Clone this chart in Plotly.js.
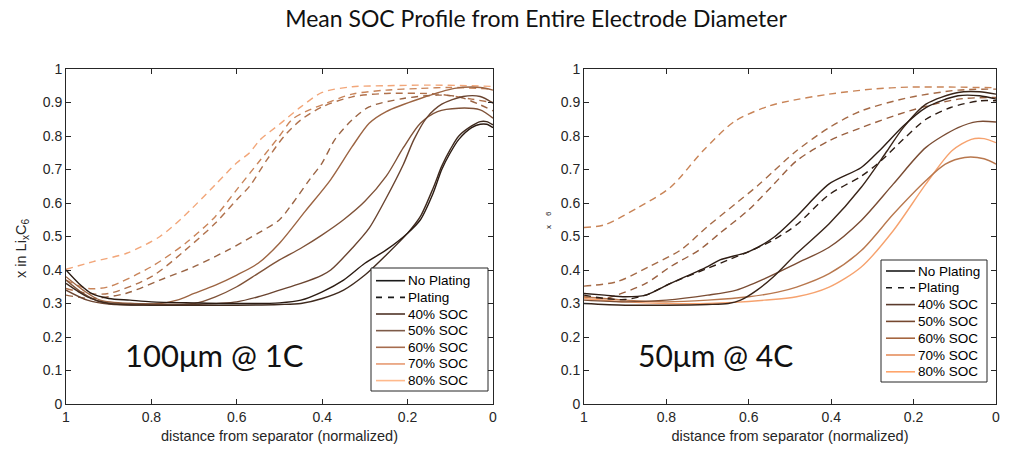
<!DOCTYPE html>
<html>
<head>
<meta charset="utf-8">
<script src="https://cdn.plot.ly/plotly-3.0.1.min.js"></script>
<style>html,body{margin:0;padding:0;background:#fff;overflow:hidden;}#chart{width:1013px;height:453px;}</style>
</head>
<body>
<div id="chart"></div>
<script>
// ---------- Left panel: 100µm @ 1C ----------
const L40sX = [1,0.97,0.94,0.9,0.85,0.8,0.7,0.6,0.5,0.45,0.4,0.35,0.3,0.25,0.2,0.17,0.14,0.12,0.1,0.08,0.05,0.03,0.015,0];
const L40sY = [0.40,0.36,0.33,0.315,0.31,0.305,0.302,0.30,0.302,0.31,0.335,0.37,0.42,0.46,0.51,0.55,0.63,0.70,0.75,0.79,0.825,0.835,0.835,0.825];
const L50sX = [1,0.95,0.9,0.8,0.7,0.6,0.5,0.45,0.4,0.35,0.3,0.25,0.2,0.17,0.14,0.12,0.1,0.08,0.05,0.03,0.015,0];
const L50sY = [0.36,0.32,0.30,0.295,0.295,0.295,0.297,0.30,0.315,0.34,0.385,0.445,0.51,0.56,0.645,0.71,0.76,0.80,0.83,0.843,0.843,0.833];
const L60sX = [1,0.95,0.9,0.8,0.7,0.6,0.55,0.5,0.45,0.4,0.38,0.33,0.29,0.25,0.21,0.185,0.155,0.12,0.07,0.03,0];
const L60sY = [0.34,0.31,0.298,0.295,0.297,0.305,0.32,0.34,0.36,0.385,0.40,0.465,0.525,0.615,0.715,0.79,0.855,0.895,0.918,0.918,0.898];
const L70sX = [1,0.96,0.92,0.85,0.75,0.7,0.65,0.6,0.55,0.5,0.45,0.4,0.35,0.3,0.25,0.21,0.17,0.13,0.08,0.03,0];
const L70sY = [0.37,0.33,0.305,0.30,0.298,0.30,0.32,0.35,0.39,0.43,0.465,0.505,0.55,0.605,0.68,0.765,0.838,0.873,0.883,0.878,0.853];
const L80sX = [1,0.96,0.92,0.85,0.78,0.74,0.7,0.65,0.6,0.55,0.5,0.44,0.38,0.33,0.29,0.25,0.17,0.09,0.03,0];
const L80sY = [0.38,0.34,0.31,0.30,0.30,0.31,0.33,0.355,0.385,0.42,0.48,0.575,0.67,0.768,0.838,0.873,0.912,0.942,0.945,0.937];
const L50dX = [1,0.94,0.86,0.78,0.7,0.62,0.55,0.5,0.475,0.43,0.4,0.37,0.33,0.29,0.21,0.13,0.08,0.03,0];
const L50dY = [0.325,0.315,0.33,0.37,0.41,0.46,0.51,0.55,0.589,0.669,0.72,0.79,0.848,0.887,0.912,0.922,0.917,0.893,0.875];
const L60dX = [1,0.95,0.9,0.8,0.72,0.65,0.6,0.57,0.53,0.49,0.45,0.4,0.33,0.25,0.13,0.05,0];
const L60dY = [0.345,0.33,0.33,0.38,0.46,0.54,0.61,0.65,0.728,0.798,0.848,0.887,0.917,0.927,0.925,0.91,0.90];
const L70dX = [1,0.95,0.9,0.8,0.72,0.65,0.6,0.55,0.5,0.47,0.43,0.39,0.33,0.25,0.17,0.1,0];
const L70dY = [0.37,0.345,0.35,0.41,0.48,0.56,0.64,0.72,0.80,0.85,0.878,0.898,0.925,0.937,0.942,0.945,0.94];
const L80dX = [1,0.936,0.858,0.78,0.725,0.65,0.6,0.57,0.546,0.5,0.45,0.4,0.33,0.25,0.15,0.05,0];
const L80dY = [0.402,0.425,0.45,0.50,0.559,0.655,0.72,0.75,0.788,0.835,0.887,0.93,0.947,0.95,0.952,0.95,0.948];

// ---------- Right panel: 50µm @ 4C ----------
const R40sX = [1,0.95,0.9,0.85,0.79,0.7,0.67,0.6,0.54,0.484,0.405,0.327,0.28,0.225,0.17,0.092,0.04,0];
const R40sY = [0.33,0.325,0.32,0.325,0.36,0.41,0.43,0.455,0.497,0.56,0.657,0.706,0.76,0.83,0.885,0.92,0.92,0.91];
const R50sX = [1,0.9,0.8,0.7,0.65,0.62,0.58,0.54,0.484,0.405,0.327,0.264,0.225,0.17,0.092,0.04,0];
const R50sY = [0.30,0.295,0.295,0.297,0.30,0.31,0.34,0.38,0.449,0.538,0.647,0.756,0.825,0.895,0.93,0.932,0.925];
const R60sX = [1,0.9,0.8,0.7,0.63,0.56,0.484,0.405,0.327,0.249,0.17,0.092,0.045,0];
const R60sY = [0.31,0.305,0.31,0.325,0.34,0.375,0.42,0.468,0.548,0.657,0.766,0.825,0.843,0.842];
const R70sX = [1,0.9,0.8,0.7,0.6,0.53,0.484,0.405,0.327,0.249,0.17,0.123,0.076,0.029,0];
const R70sY = [0.32,0.31,0.305,0.31,0.32,0.334,0.349,0.389,0.458,0.567,0.667,0.716,0.736,0.732,0.716];
const R80sX = [1,0.9,0.8,0.7,0.562,0.484,0.405,0.327,0.249,0.17,0.107,0.06,0.029,0];
const R80sY = [0.315,0.305,0.30,0.30,0.31,0.32,0.349,0.409,0.518,0.657,0.756,0.79,0.792,0.78];
const R40dX = [1,0.95,0.9,0.85,0.79,0.7,0.65,0.6,0.54,0.484,0.405,0.327,0.28,0.225,0.17,0.11,0.04,0];
const R40dY = [0.325,0.315,0.312,0.325,0.36,0.405,0.43,0.455,0.49,0.535,0.625,0.68,0.725,0.79,0.85,0.885,0.905,0.905];
const R50dX = [1,0.95,0.92,0.85,0.79,0.72,0.67,0.6,0.54,0.484,0.405,0.327,0.21,0.092,0];
const R50dY = [0.32,0.315,0.325,0.36,0.41,0.46,0.51,0.58,0.655,0.726,0.786,0.825,0.875,0.91,0.915];
const R60dX = [1,0.92,0.842,0.765,0.7,0.633,0.58,0.539,0.484,0.405,0.327,0.21,0.092,0];
const R60dY = [0.352,0.365,0.41,0.46,0.53,0.597,0.65,0.696,0.756,0.825,0.875,0.915,0.937,0.94];
const R70dX = [1,0.95,0.868,0.79,0.711,0.633,0.55,0.5,0.405,0.3,0.21,0.1,0];
const R70dY = [0.527,0.535,0.587,0.647,0.756,0.845,0.89,0.905,0.925,0.94,0.946,0.946,0.944];

const legendLabels = ['No Plating','Plating','40% SOC','50% SOC','60% SOC','70% SOC','80% SOC'];
const legColorsL = ['#1a1a1a','#1a1a1a','#4f3326','#7d5a48','#a66c4e','#e79a72','#ffb98b'];
const legColorsR = ['#1a1a1a','#1a1a1a','#5a3a2c','#75472f','#a5653f','#e58f5e','#ffa56b'];
const xTickVals = [1,0.8,0.6,0.4,0.2,0];
const xTickText = ['1','0.8','0.6','0.4','0.2','0'];
const yTickVals = [0,0.1,0.2,0.3,0.4,0.5,0.6,0.7,0.8,0.9,1];

const DASH = '7px,5px';
function curve(x, y, color, dashed, ax) {
  return {x: x, y: y, type: 'scatter', mode: 'lines', xaxis: ax[0], yaxis: ax[1],
    line: {color: color, width: 1.4, shape: 'spline', smoothing: 0.8, dash: dashed ? DASH : 'solid'},
    showlegend: false, hoverinfo: 'skip'};
}
const AX1 = ['x','y'], AX2 = ['x2','y2'];
const traces = [
  curve(L80dX, L80dY, '#f2a679', true, AX1),
  curve(L70dX, L70dY, '#c98459', true, AX1),
  curve(L60dX, L60dY, '#b0714c', true, AX1),
  curve(L50dX, L50dY, '#9a6444', true, AX1),
  curve(L80sX, L80sY, '#9c6442', false, AX1),
  curve(L70sX, L70sY, '#7f5238', false, AX1),
  curve(L60sX, L60sY, '#6a4430', false, AX1),
  curve(L50sX, L50sY, '#3f2a1e', false, AX1),
  curve(L40sX, L40sY, '#2b1b12', false, AX1),

  curve(R70dX, R70dY, '#c98457', true, AX2),
  curve(R60dX, R60dY, '#a56a46', true, AX2),
  curve(R50dX, R50dY, '#9a6040', true, AX2),
  curve(R80sX, R80sY, '#f6a26e', false, AX2),
  curve(R70sX, R70sY, '#b8774d', false, AX2),
  curve(R60sX, R60sY, '#7a4c33', false, AX2),
  curve(R50sX, R50sY, '#3a2519', false, AX2),
  curve(R40sX, R40sY, '#2e1d14', false, AX2),
  curve(R40dX, R40dY, '#2e1d14', true, AX2)
];

const W = 1013, H = 453;
const px = v => v / W, py = v => 1 - v / H;
const FONT = 'Liberation Sans, Arial, sans-serif';
const tickFont = {family: FONT, size: 14, color: '#262626'};
function xAxis(dom, anchor) {
  return {domain: dom, anchor: anchor, range: [1, 0], tickmode: 'array', tickvals: xTickVals, ticktext: xTickText,
    ticks: 'inside', ticklen: 5,
    tickcolor: '#262626', showline: true, linecolor: '#262626', linewidth: 1, mirror: 'ticks',
    showgrid: false, zeroline: false, tickfont: tickFont, ticklabeloverflow: 'allow',
    title: {text: 'distance from separator (normalized)', font: {family: FONT, size: 14.5, color: '#262626'}, standoff: 7}};
}
function yAxis(dom, anchor) {
  return {domain: dom, anchor: anchor, range: [0, 1], tickvals: yTickVals, ticks: 'inside', ticklen: 5,
    tickcolor: '#262626', showline: true, linecolor: '#262626', linewidth: 1, mirror: 'ticks',
    showgrid: false, zeroline: false, tickfont: tickFont, ticklabeloverflow: 'allow'};
}
const yDom = [(H - 404) / H, (H - 69) / H];

// manual legends (box, line samples, labels)
const shapes = [], annotations = [];
function buildLegend(box, lineX0, lineX1, textX, rowY0, rowStep, colors) {
  shapes.push({type: 'rect', xref: 'paper', yref: 'paper', x0: px(box[0]), x1: px(box[1]), y0: py(box[3]), y1: py(box[2]),
    line: {color: '#262626', width: 1}, fillcolor: '#ffffff', layer: 'above'});
  legendLabels.forEach((lab, i) => {
    const yy = rowY0 + i * rowStep;
    shapes.push({type: 'line', xref: 'paper', yref: 'paper', x0: px(lineX0), x1: px(lineX1), y0: py(yy), y1: py(yy),
      line: {color: colors[i], width: 1.6, dash: i === 1 ? '6px,6px' : 'solid'}, layer: 'above'});
    annotations.push({text: lab, xref: 'paper', yref: 'paper', x: px(textX), y: py(yy), xanchor: 'left', yanchor: 'middle',
      showarrow: false, font: {family: FONT, size: 13.5, color: '#000'}});
  });
}
buildLegend([371, 488, 268, 391], 376, 405, 406, 280.7, 16.65, legColorsL);
buildLegend([881, 987, 260, 382], 886, 915, 916, 271, 16.8, legColorsR);

annotations.push(
  {text: 'x in Li<sub>x</sub>C<sub>6</sub>', xref: 'paper', yref: 'paper', x: px(22), y: py(249), textangle: -90,
    showarrow: false, xanchor: 'center', yanchor: 'middle', font: {family: FONT, size: 14.5, color: '#262626'}},
  {text: 'x    6', xref: 'paper', yref: 'paper', x: px(548), y: py(220), textangle: -90,
    showarrow: false, xanchor: 'center', yanchor: 'middle', font: {family: FONT, size: 8, color: '#262626'}},
  {text: '100μm @ 1C', xref: 'paper', yref: 'paper', x: px(214), y: py(355), showarrow: false,
    xanchor: 'center', yanchor: 'middle', font: {family: 'Lato, Open Sans, sans-serif', size: 31, color: '#111'}},
  {text: '50μm @ 4C', xref: 'paper', yref: 'paper', x: px(715), y: py(355), showarrow: false,
    xanchor: 'center', yanchor: 'middle', font: {family: 'Lato, Open Sans, sans-serif', size: 30, color: '#111'}}
);

const layout = {
  width: W, height: H, margin: {l: 0, r: 0, t: 0, b: 0},
  paper_bgcolor: '#fff', plot_bgcolor: '#fff', showlegend: false,
  title: {text: 'Mean SOC Profile from Entire Electrode Diameter', x: px(536), xanchor: 'center', y: py(19), yanchor: 'middle',
    font: {family: 'Lato, Open Sans, sans-serif', size: 23, color: '#111'}},
  xaxis: xAxis([px(66), px(493)], 'y'),
  yaxis: yAxis(yDom, 'x'),
  xaxis2: xAxis([px(584), px(996)], 'y2'),
  yaxis2: yAxis(yDom, 'x2'),
  shapes: shapes,
  annotations: annotations
};

Plotly.newPlot('chart', traces, layout, {displayModeBar: false, staticPlot: true});
</script>
</body>
</html>
